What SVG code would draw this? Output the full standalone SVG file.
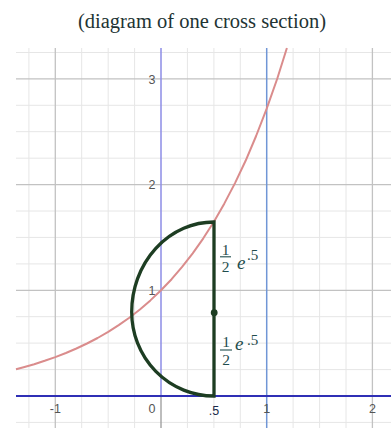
<svg xmlns="http://www.w3.org/2000/svg" width="391" height="428" viewBox="0 0 391 428">
<style>
.minor{stroke:#e6e6e6;stroke-width:1}
.major{stroke:#c2c2c2;stroke-width:1.3}
.tick{font-family:"Liberation Sans",Arial,sans-serif;font-size:12.5px;fill:#555}
.frac{font-family:"Liberation Serif","DejaVu Serif",serif;fill:#1f4d4d}
.shape{stroke:#1d3d22;stroke-width:3.3;fill:none}
</style>
<rect width="391" height="428" fill="#fff"/>
<g id="title"><text x="202" y="28" text-anchor="middle" font-family="Liberation Serif,Times New Roman,serif" font-size="20.5" fill="#223333">(diagram of one cross section)</text></g>
<g id="grid">
<g class="minor">
<line x1="28.9" y1="48" x2="28.9" y2="428"/><line x1="81.7" y1="48" x2="81.7" y2="428"/><line x1="108.2" y1="48" x2="108.2" y2="428"/><line x1="134.6" y1="48" x2="134.6" y2="428"/><line x1="187.4" y1="48" x2="187.4" y2="428"/><line x1="213.9" y1="48" x2="213.9" y2="428"/><line x1="240.3" y1="48" x2="240.3" y2="428"/><line x1="293.1" y1="48" x2="293.1" y2="428"/><line x1="319.6" y1="48" x2="319.6" y2="428"/><line x1="346" y1="48" x2="346" y2="428"/>
<line x1="16" y1="422.4" x2="391" y2="422.4"/><line x1="16" y1="369.6" x2="391" y2="369.6"/><line x1="16" y1="343.1" x2="391" y2="343.1"/><line x1="16" y1="316.7" x2="391" y2="316.7"/><line x1="16" y1="263.9" x2="391" y2="263.9"/><line x1="16" y1="237.4" x2="391" y2="237.4"/><line x1="16" y1="211" x2="391" y2="211"/><line x1="16" y1="158.2" x2="391" y2="158.2"/><line x1="16" y1="131.7" x2="391" y2="131.7"/><line x1="16" y1="105.3" x2="391" y2="105.3"/><line x1="16" y1="52.5" x2="391" y2="52.5"/>
</g>
<g class="major">
<line x1="55.3" y1="48" x2="55.3" y2="428"/><line x1="372.4" y1="48" x2="372.4" y2="428"/>
<line x1="16" y1="290.3" x2="391" y2="290.3"/><line x1="16" y1="184.6" x2="391" y2="184.6"/><line x1="16" y1="78.9" x2="391" y2="78.9"/>
<line x1="161" y1="396" x2="161" y2="428" stroke="#9a9a9a"/>
</g>
</g>
<g id="lines">
<line x1="161" y1="48" x2="161" y2="396" stroke="#8c8ce6" stroke-width="1.5"/>
<line x1="266.7" y1="48" x2="266.7" y2="428" stroke="#7096d6" stroke-width="1.5"/>
<line x1="16" y1="396" x2="391" y2="396" stroke="#2f2fb5" stroke-width="2"/>
</g>
<g id="labels" class="tick">
<text x="55.3" y="413" text-anchor="middle">-1</text>
<text x="152" y="413" text-anchor="middle">0</text>
<text x="214" y="415" text-anchor="middle" fill="#1a2a4a">.5</text>
<text x="266.7" y="413" text-anchor="middle">1</text>
<text x="372.4" y="413" text-anchor="middle">2</text>
<text x="152" y="295" text-anchor="middle">1</text>
<text x="152" y="189" text-anchor="middle">2</text>
<text x="152" y="83.5" text-anchor="middle">3</text>
</g>
<g id="curve"><path d="M16,369.2 L23.6,367.2 L34.2,364.2 L44.7,360.8 L55.3,357.1 L65.9,353 L76.4,348.5 L87,343.5 L97.6,338 L108.2,331.9 L118.7,325.1 L129.3,317.7 L139.9,309.5 L150.4,300.4 L161,290.3 L171.6,279.2 L182.1,266.9 L192.7,253.3 L203.3,238.3 L213.9,221.7 L224.4,203.4 L235,183.1 L245.6,160.8 L256.1,136 L266.7,108.7 L277.3,78.5 L286.9,48" fill="none" stroke="#da8c8c" stroke-width="2" stroke-linejoin="round"/></g>
<g id="cross-section">
<path class="shape" d="M214,222 A82.3,90 0 0 0 131.7,312 A82.3,84 0 0 0 214,396 Z" stroke-linejoin="miter"/>
<circle cx="214.2" cy="312.7" r="3.4" fill="#1d3d22"/>
</g>
<g id="label-top" class="frac">
<text x="225.5" y="254.5" text-anchor="middle" font-size="15.5">1</text>
<line x1="220" y1="256.8" x2="231" y2="256.8" stroke="#1f4d4d" stroke-width="1.1"/>
<text x="225.5" y="271.8" text-anchor="middle" font-size="15.5">2</text>
<text x="237" y="269" font-size="19" font-style="italic">e</text>
<text x="247" y="260" font-size="15">.5</text>
</g>
<g id="label-bottom" class="frac">
<text x="226" y="347.3" text-anchor="middle" font-size="15.5">1</text>
<line x1="220" y1="350" x2="232" y2="350" stroke="#1f4d4d" stroke-width="1.1"/>
<text x="226" y="364.6" text-anchor="middle" font-size="15.5">2</text>
<text x="235" y="349.5" font-size="19" font-style="italic">e</text>
<text x="247" y="345" font-size="15">.5</text>
</g>
</svg>
